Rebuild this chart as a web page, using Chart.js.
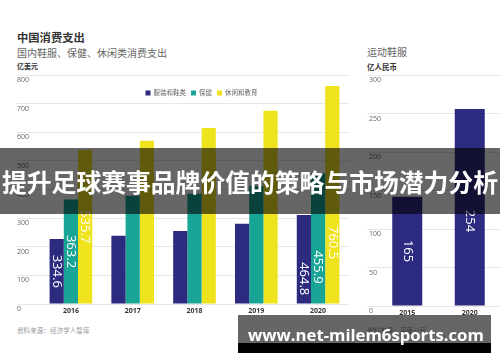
<!DOCTYPE html>
<html>
<head>
<meta charset="utf-8">
<script src="https://cdn.jsdelivr.net/npm/chart.js@4.4.1/dist/chart.umd.min.js"></script>
<style>
  html, body { margin: 0; padding: 0; background: #fff; }
  body { width: 500px; height: 362px; position: relative; overflow: hidden; font-family: "Noto Sans CJK SC", "Noto Sans", sans-serif; }
  canvas { position: absolute; top: 0; }
  #consumer { left: 0; }
  #sport { left: 350px; }
  .txt { position: absolute; white-space: nowrap; line-height: 1; }
  #banner { position: absolute; left: 0; top: 148px; width: 500px; height: 66px; background: rgba(0,0,0,0.6);
            color: #fff; font-weight: bold; font-size: 24.8px; display: flex; align-items: center; justify-content: center; z-index: 5; }
  #mark { position: absolute; left: 238px; top: 315px; width: 253px; height: 28px; background: rgba(0,0,0,0.6); z-index: 5; }
  #markBar { position: absolute; left: 238px; top: 343px; width: 253px; height: 10px; background: #000; z-index: 5; }
  #markText { position: absolute; left: 248px; top: 327px; font-family: "Open Sans", sans-serif; font-weight: bold;
              font-size: 16.7px; line-height: 16.7px; color: #fff; z-index: 6; white-space: nowrap; }
</style>
</head>
<body>
<div class="txt" style="left:17px;top:32px;font-size:11.3px;font-weight:bold;color:#333;">中国消费支出</div>
<div class="txt" style="left:17px;top:47.5px;font-size:10px;color:#666;">国内鞋服、保健、休闲类消费支出</div>
<div class="txt" style="left:17px;top:63px;font-size:7px;font-weight:bold;color:#333;">亿美元</div>
<div class="txt" style="left:367px;top:47px;font-size:10px;color:#666;">运动鞋服</div>
<div class="txt" style="left:367px;top:62.5px;font-size:7.5px;font-weight:bold;color:#333;">亿人民币</div>
<div class="txt" style="left:17px;top:326.5px;font-size:6.6px;color:#999;">资料来源：经济学人智库</div>
<div class="txt" style="left:367px;top:326.5px;font-size:6.6px;color:#999;">资料来源：高盛公司</div>

<canvas id="consumer" width="352" height="322"></canvas>
<canvas id="sport" width="152" height="324"></canvas>

<div id="banner">提升足球赛事品牌价值的策略与市场潜力分析</div>
<div id="mark"></div>
<div id="markBar"></div>
<div id="markText">www.net-milem6sports.com</div>

<script>
// left panel: domestic spending, 亿美元
const years = ["2016", "2017", "2018", "2019", "2020"];
const apparel = [227, 238, 255, 280, 311];
const health = [365, 378, 385, 412, 457];
const leisure = [538, 570, 615, 675, 762];
const apparelLabels = ["334.6", "", "", "", "464.8"];
const healthLabels = ["363.2", "", "", "", "455.9"];
const leisureLabels = ["535.7", "", "", "", "760.5"];

// right panel: sportswear, 亿人民币
const sportYears = ["2015", "2020"];
const sportwear = [142, 256];
const sportLabels = ["165", "254"];

const NAVY = "#2d2b80";
const TEAL = "#18a596";
const YELLOW = "#efe31e";
const GRID = "#e6e6e6";

const valueLabels = {
  id: "valueLabels",
  afterDatasetsDraw(chart, args, opts) {
    const ctx = chart.ctx;
    chart.data.datasets.forEach((ds, di) => {
      const meta = chart.getDatasetMeta(di);
      (ds.valueLabels || []).forEach((txt, i) => {
        if (!txt) return;
        const bar = meta.data[i];
        const f = opts.frac[i];
        const y = bar.base - f * (bar.base - bar.y);
        ctx.save();
        ctx.translate(bar.x, y);
        ctx.rotate(Math.PI / 2);
        ctx.font = "13px 'Open Sans', sans-serif";
        ctx.fillStyle = "#fff";
        ctx.textAlign = "center";
        ctx.textBaseline = "middle";
        ctx.fillText(txt, 0, 0);
        ctx.restore();
      });
    });
  }
};

const miniLegend = {
  id: "miniLegend",
  afterDraw(chart, args, opts) {
    if (!opts.show) return;
    const ctx = chart.ctx;
    const area = chart.chartArea;
    ctx.save();
    ctx.font = "6.5px 'Noto Sans CJK SC', sans-serif";
    const items = chart.data.datasets.map(ds => ({ text: ds.label, color: ds.backgroundColor, w: ctx.measureText(ds.label).width }));
    const box = 5, gapIn = 3, gapOut = 5;
    let total = 0;
    items.forEach((it, i) => { total += box + gapIn + it.w + (i < items.length - 1 ? gapOut : 0); });
    let x = (area.left + area.right) / 2 + 7 - total / 2;
    const y = area.top + 18;
    ctx.textBaseline = "middle";
    items.forEach(it => {
      ctx.fillStyle = it.color;
      ctx.fillRect(x, y - box / 2, box, box);
      x += box + gapIn;
      ctx.fillStyle = "#666";
      ctx.fillText(it.text, x, y);
      x += it.w + gapOut;
    });
    ctx.restore();
  }
};

// labels hang just under each gridline, left-aligned where the gridline starts
function yAxis(max, step, width, shift) {
  return {
    min: 0,
    max: max,
    ticks: { stepSize: step, mirror: true, crossAlign: "near", padding: -width + shift, labelOffset: 5, color: "#666",
             font: { size: 7, family: "'Open Sans', sans-serif" } },
    grid: { color: GRID, tickLength: width, drawTicks: true },
    border: { display: false },
    afterFit: s => { s.width = width; }
  };
}

const xAxis = {
  grid: { display: false, drawTicks: false },
  border: { display: false },
  ticks: { color: "#333", padding: 3, font: { size: 7, weight: "bold", family: "'Open Sans', sans-serif" } },
  afterFit: s => { s.height = 18; }
};

new Chart(document.getElementById("consumer"), {
  type: "bar",
  data: {
    labels: years,
    datasets: [
      { label: "服装和鞋类", data: apparel, backgroundColor: NAVY, valueLabels: apparelLabels },
      { label: "保健", data: health, backgroundColor: TEAL, valueLabels: healthLabels },
      { label: "休闲和教育", data: leisure, backgroundColor: YELLOW, valueLabels: leisureLabels }
    ]
  },
  options: {
    responsive: false,
    animation: false,
    layout: { padding: { left: 17, top: 75, right: 3, bottom: 0 } },
    datasets: { bar: { categoryPercentage: 0.69, barPercentage: 1 } },
    scales: { x: xAxis, y: yAxis(800, 100, 23, 0) },
    plugins: {
      legend: { display: false },
      tooltip: { enabled: false },
      valueLabels: { frac: [0.5, 0.5, 0.5, 0.5, 0.28] },
      miniLegend: { show: true }
    }
  },
  plugins: [valueLabels, miniLegend]
});

new Chart(document.getElementById("sport"), {
  type: "bar",
  data: {
    labels: sportYears,
    datasets: [
      { label: "运动鞋服", data: sportwear, backgroundColor: NAVY, valueLabels: sportLabels }
    ]
  },
  options: {
    responsive: false,
    animation: false,
    layout: { padding: { left: 17, top: 75, right: 1, bottom: 0 } },
    datasets: { bar: { categoryPercentage: 0.48, barPercentage: 1 } },
    scales: { x: xAxis, y: yAxis(300, 50, 9, 2) },
    plugins: {
      legend: { display: false },
      tooltip: { enabled: false },
      valueLabels: { frac: [0.5, 0.43] },
      miniLegend: { show: false }
    }
  },
  plugins: [valueLabels, miniLegend]
});
</script>
</body>
</html>
